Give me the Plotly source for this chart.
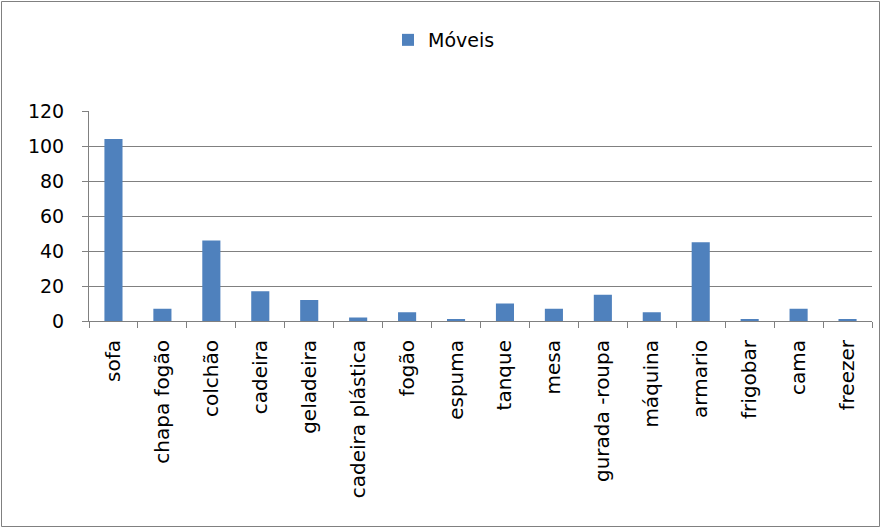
import plotly.graph_objects as go

categories = ["sofa", "chapa fogão", "colchão", "cadeira", "geladeira", "cadeira plástica",
              "fogão", "espuma", "tanque", "mesa", "gurada -roupa", "máquina", "armario",
              "frigobar", "cama", "freezer"]
values = [104, 7, 46, 17, 12, 2, 5, 1, 10, 7, 15, 5, 45, 1, 7, 1]
series_name = "Móveis"
y_ticks = [0, 20, 40, 60, 80, 100, 120]

W, H = 881, 528
ML, MR, MT, MB = 89, 9, 111, 207
pw, ph = W - ML - MR, H - MT - MB

def px_x(x):
    return (x - ML) / pw

def px_y(y):
    return 1 - (y - MT) / ph

FONT = "DejaVu Sans"
GRID = "#808080"

fig = go.Figure(go.Bar(
    x=categories, y=values, name=series_name,
    marker=dict(color="#4F81BD", line=dict(width=0)),
    showlegend=True,
))

fig.update_layout(
    width=W, height=H,
    margin=dict(l=ML, r=MR, t=MT, b=MB, pad=0),
    paper_bgcolor="white", plot_bgcolor="white",
    font=dict(family=FONT, size=19, color="black"),
    bargap=0.63,
    showlegend=True,
    legend=dict(x=px_x(444), y=px_y(40), xanchor="center", yanchor="middle",
                orientation="h", font=dict(size=19, family=FONT),
                bgcolor="rgba(0,0,0,0)", itemwidth=30),
    xaxis=dict(
        type="category", tickangle=-90, tickson="boundaries",
        ticks="outside", ticklen=6, tickcolor=GRID, tickwidth=1,
        showline=True, linecolor=GRID, linewidth=1, showgrid=False,
        ticklabelstandoff=10, tickfont=dict(size=20, family=FONT),
        fixedrange=True,
    ),
    yaxis=dict(
        range=[0, 120], tickvals=y_ticks, ticktext=[str(v) for v in y_ticks],
        ticks="outside", ticklen=6, tickcolor=GRID, tickwidth=1,
        showline=True, linecolor=GRID, linewidth=1,
        showgrid=True, gridcolor=GRID, gridwidth=1, zeroline=False,
        ticklabelstandoff=14, tickfont=dict(size=19, family=FONT),
    ),
    shapes=[dict(type="rect", xref="paper", yref="paper",
                 x0=px_x(1.5), x1=px_x(879.5), y0=px_y(526.5), y1=px_y(1.5),
                 line=dict(color=GRID, width=1), fillcolor="rgba(0,0,0,0)", layer="below")],
)

fig.write_html("out.html")
